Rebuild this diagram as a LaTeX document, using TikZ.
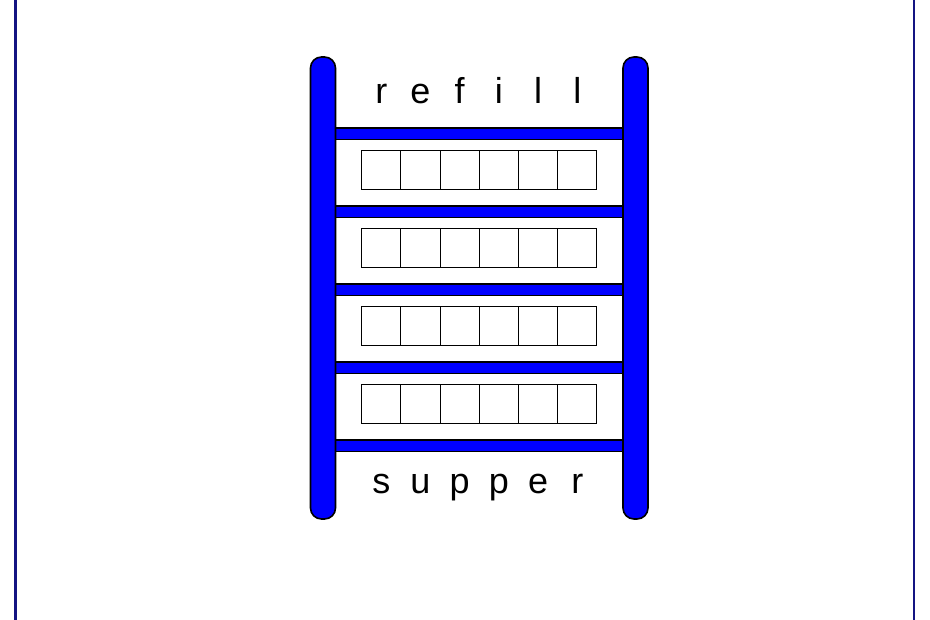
\documentclass[tikz,border=0pt]{standalone}
\usepackage{fontspec}
\setmainfont{Liberation Sans}
\begin{document}
\begin{tikzpicture}[x=1pt,y=-1pt,
  frameline/.style={draw={rgb,255:red,20;green,20;blue,130},line width=2.2pt},
  rail/.style={draw=black,fill={rgb,255:red,0;green,0;blue,255},line width=1.6pt,rounded corners=11pt,minimum width=25pt,minimum height=462pt,inner sep=0pt},
  rung/.style={draw=black,fill={rgb,255:red,0;green,0;blue,255},line width=1.3pt,minimum width=290pt,minimum height=11.5pt,inner sep=0pt},
  cell/.style={draw=black,line width=1pt,minimum width=39.2pt,minimum height=39.3pt,inner sep=0pt},
  letter/.style={font=\fontsize{36}{40}\selectfont,anchor=base,inner sep=0pt}]
\useasboundingbox (0,0) rectangle (930,620);
\coordinate (ft1) at (15.5,-5);
\coordinate (fb1) at (15.5,625);
\coordinate (ft2) at (913.8,-5);
\coordinate (fb2) at (913.8,625);
\draw[frameline] (ft1) -- (fb1);
\draw[frameline] (ft2) -- (fb2);
% rungs
\foreach \k in {0,...,4}{
  \node[rung] (rung\k) at (479,{133.7+78*\k}) {};
}
% rails
\node[rail] (railL) at (323,288) {};
\node[rail] (railR) at (635.5,288) {};
% cells
\foreach \k in {0,...,3}{
  \foreach \j in {0,...,5}{
    \node[cell] (cell\k\j) at ({381.3+39.2*\j},{169.7+78*\k}) {};
  }
}
% letters
\foreach \ch [count=\j from 0] in {r,e,f,i,l,l}{
  \node[letter] (top\j) at ({381.3+39.2*\j},103.3) {\ch};
}
\foreach \ch [count=\j from 0] in {s,u,p,p,e,r}{
  \node[letter] (bot\j) at ({381.3+39.2*\j},493.3) {\ch};
}
\end{tikzpicture}
\end{document}
